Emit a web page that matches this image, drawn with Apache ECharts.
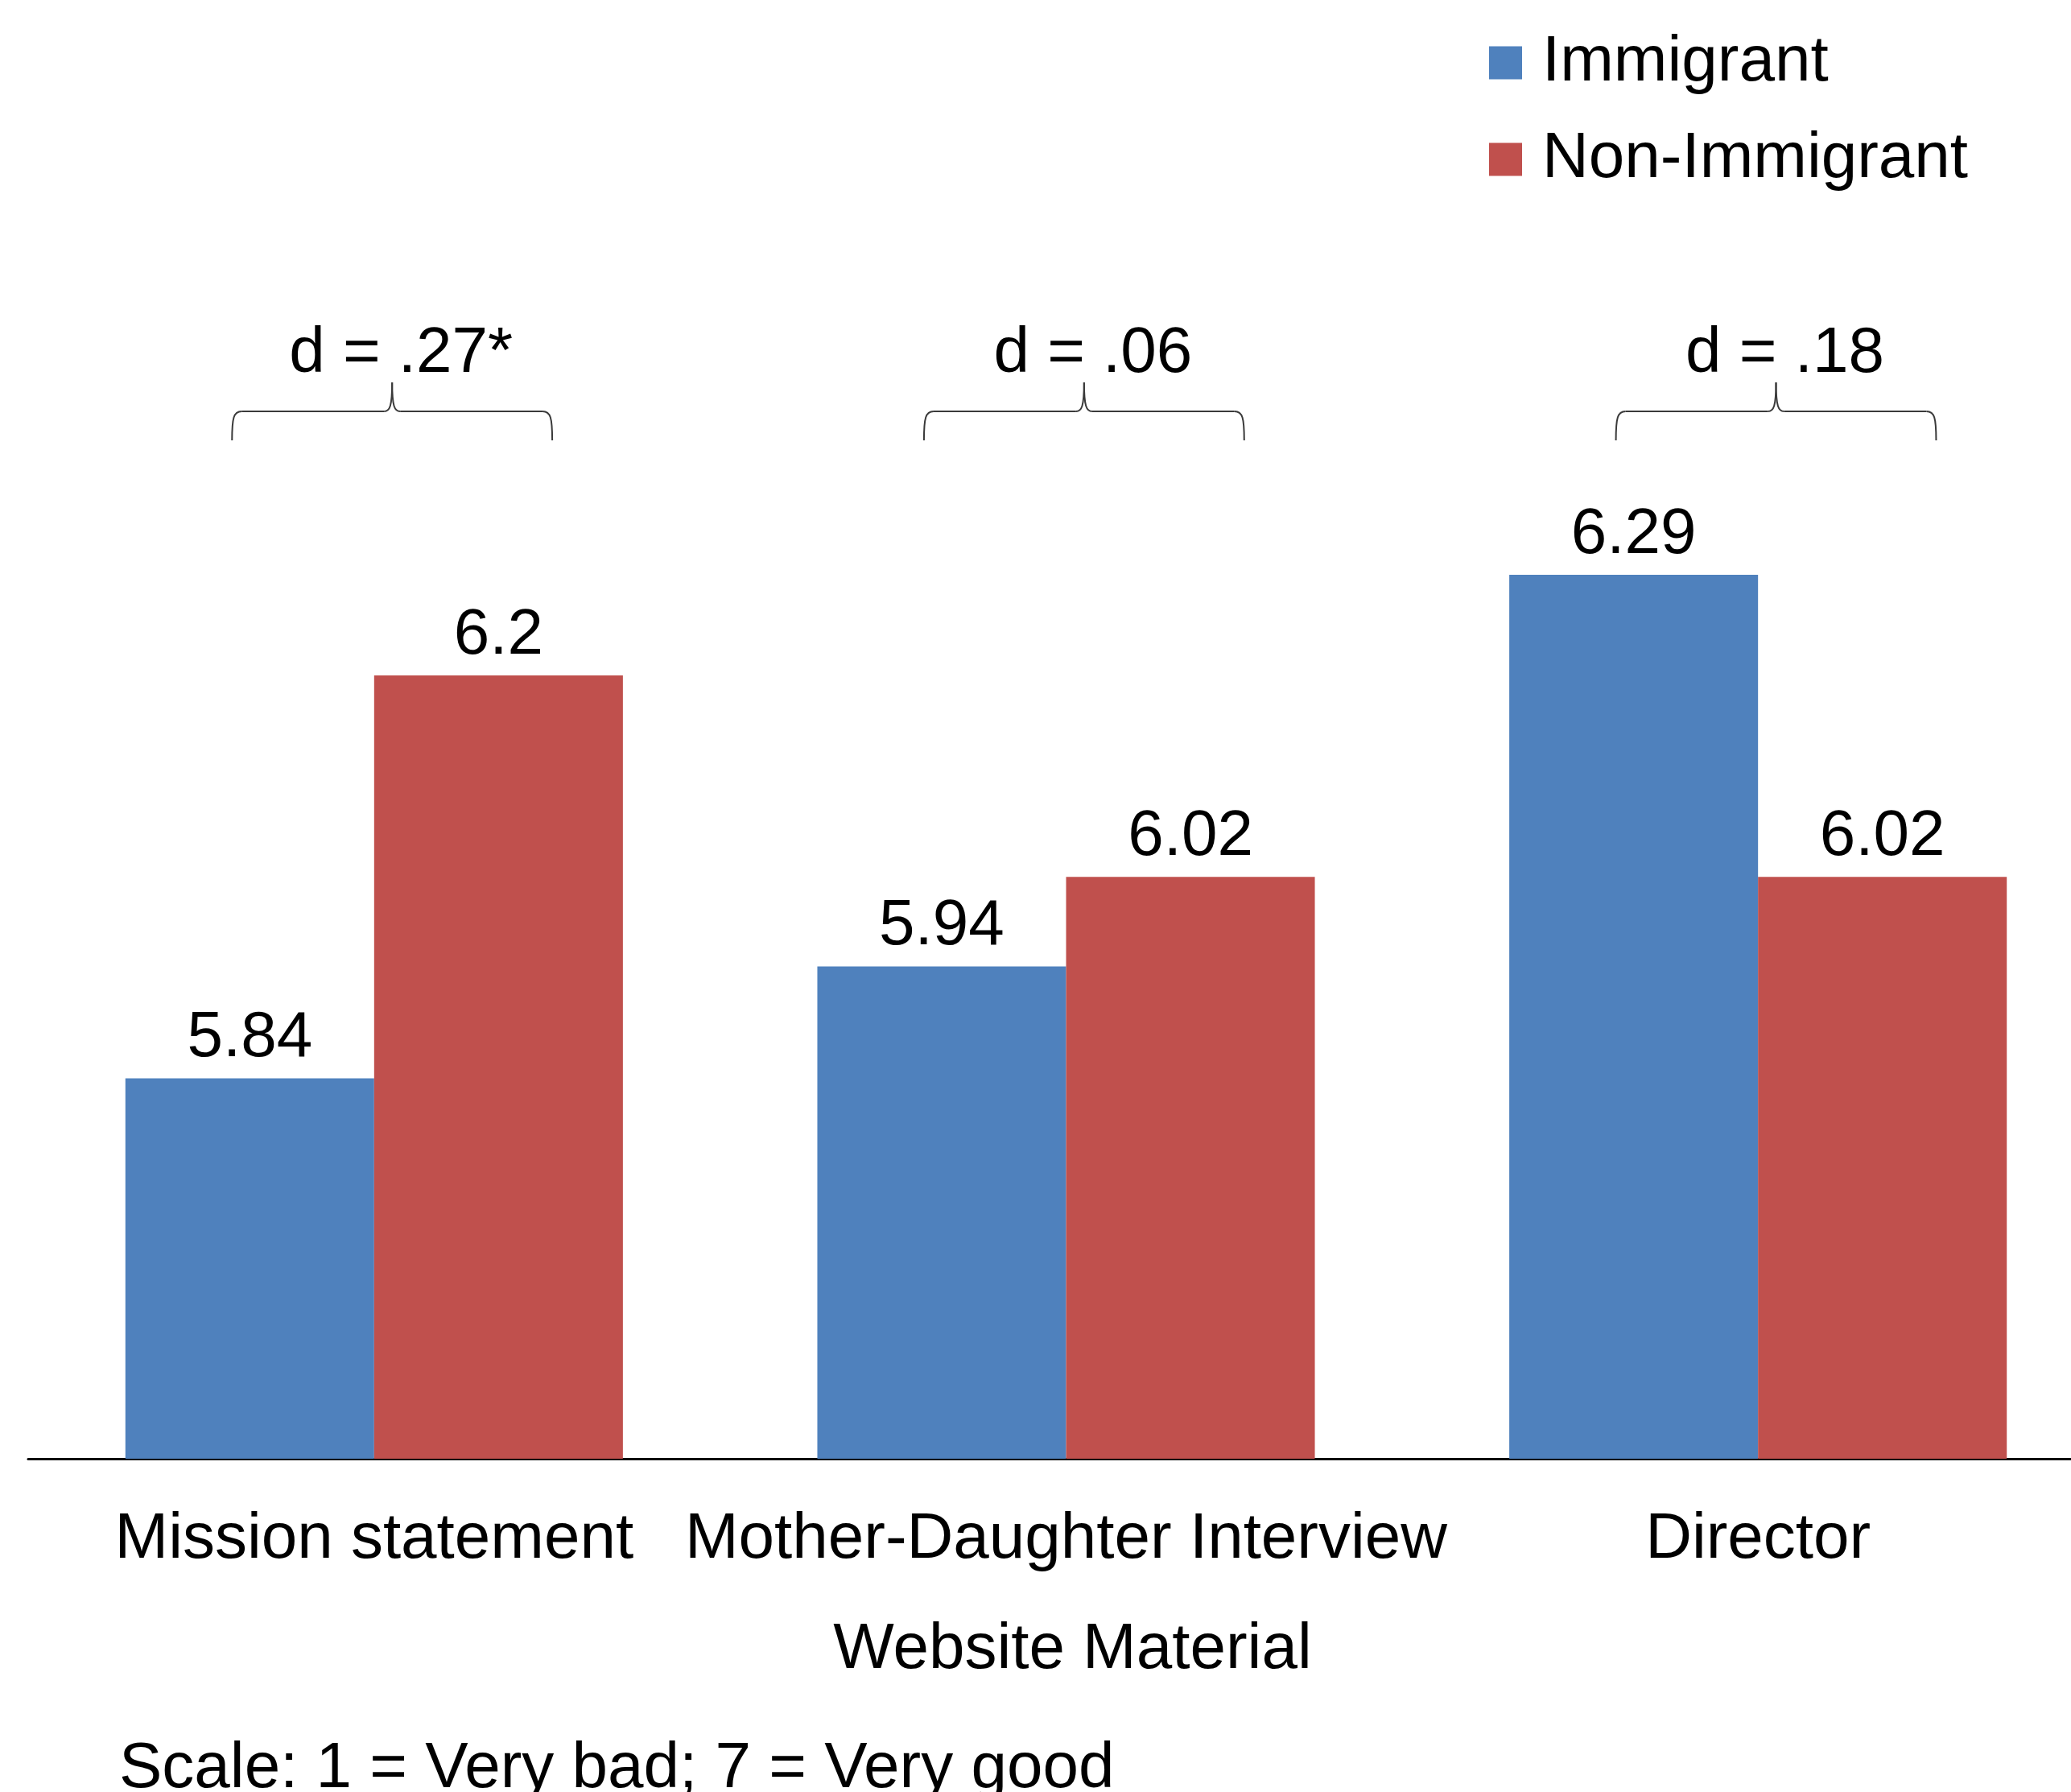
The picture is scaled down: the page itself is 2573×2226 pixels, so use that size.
<!DOCTYPE html>
<html>
<head>
<meta charset="utf-8">
<script src="https://cdn.jsdelivr.net/npm/echarts@6/dist/echarts.min.js"></script>
<style>
html,body{margin:0;padding:0;background:#fff;}
#chart{width:2573px;height:2226px;}
</style>
</head>
<body>
<div id="chart"></div>
<script>
const categories = ['Mission statement', 'Mother-Daughter Interview', 'Director'];
const immigrant = [5.84, 5.94, 6.29];
const nonImmigrant = [6.2, 6.02, 6.02];
const effectLabels = ['d = .27*', 'd = .06', 'd = .18'];
const braceLevel = 6.436;
const axisName = 'Website Material';
const scaleNote = 'Scale: 1 = Very bad; 7 = Very good';

const FONT = '"Liberation Sans", Arial, Helvetica, sans-serif';
const chart = echarts.init(document.getElementById('chart'), null, {renderer: 'canvas'});

const braceData = categories.map((c, i) => [i, braceLevel]);

function renderBrace(params, api) {
  const idx = api.value(0);
  const p = api.coord([idx, api.value(1)]);
  const band = api.size([1, 0])[0];
  const cx = p[0] + band * 0.026;
  const y0 = p[1];
  const W = band * 0.2314;
  const h = 36;
  const st = {stroke: '#3a3a3a', lineWidth: 2, fill: null};
  return {
    type: 'group',
    children: [
      {type: 'bezierCurve', shape: {x1: cx - W, y1: y0 + h, cpx1: cx - W, cpy1: y0 + 8, cpx2: cx - W + 2, cpy2: y0, x2: cx - W + 12, y2: y0}, style: st},
      {type: 'line', shape: {x1: cx - W + 12, y1: y0, x2: cx - 10, y2: y0}, style: st},
      {type: 'bezierCurve', shape: {x1: cx - 10, y1: y0, cpx1: cx - 3, cpy1: y0, cpx2: cx, cpy2: y0 - 6, x2: cx, y2: y0 - h}, style: st},
      {type: 'bezierCurve', shape: {x1: cx, y1: y0 - h, cpx1: cx, cpy1: y0 - 6, cpx2: cx + 3, cpy2: y0, x2: cx + 10, y2: y0}, style: st},
      {type: 'line', shape: {x1: cx + 10, y1: y0, x2: cx + W - 12, y2: y0}, style: st},
      {type: 'bezierCurve', shape: {x1: cx + W - 12, y1: y0, cpx1: cx + W - 2, cpy1: y0, cpx2: cx + W, cpy2: y0 + 8, x2: cx + W, y2: y0 + h}, style: st},
      {type: 'text', x: cx + 11, y: y0 - 71, style: {text: effectLabels[idx], fontSize: 80, fontFamily: FONT, fill: '#000', align: 'center', verticalAlign: 'middle'}}
    ]
  };
}

const option = {
  animation: false,
  backgroundColor: '#ffffff',
  textStyle: {fontFamily: FONT},
  grid: {left: 35, right: -41, top: 422, bottom: 414, containLabel: false, outerBoundsMode: 'none'},
  legend: {
    data: ['Immigrant', 'Non-Immigrant'],
    orient: 'vertical',
    left: 1850,
    top: 34,
    padding: 0,
    itemWidth: 41,
    itemHeight: 41,
    itemGap: 32,
    icon: 'rect',
    textStyle: {fontSize: 80, lineHeight: 80, color: '#000', fontFamily: FONT, padding: [8, 0, 0, 20]}
  },
  xAxis: {
    type: 'category',
    data: categories,
    axisLine: {show: true, lineStyle: {color: '#000', width: 3}},
    axisTick: {show: false},
    axisLabel: {interval: 0, fontSize: 80, lineHeight: 80, color: '#000', margin: 61, fontFamily: FONT},
    name: axisName,
    nameLocation: 'middle',
    nameGap: 198,
    nameTextStyle: {fontSize: 80, lineHeight: 80, color: '#000', fontFamily: FONT, padding: [0, 0, 0, 16]}
  },
  yAxis: {
    type: 'value',
    min: 5.5,
    max: 6.5,
    show: false,
    splitLine: {show: false}
  },
  series: [
    {
      name: 'Immigrant',
      type: 'bar',
      data: immigrant,
      barGap: '0%',
      barCategoryGap: '28.1%',
      itemStyle: {color: '#4F81BD'},
      label: {show: true, position: 'top', distance: 9, fontSize: 80, lineHeight: 80, color: '#000', fontFamily: FONT}
    },
    {
      name: 'Non-Immigrant',
      type: 'bar',
      data: nonImmigrant,
      barGap: '0%',
      barCategoryGap: '28.1%',
      itemStyle: {color: '#C0504D'},
      label: {show: true, position: 'top', distance: 9, fontSize: 80, lineHeight: 80, color: '#000', fontFamily: FONT}
    },
    {
      name: 'braces',
      type: 'custom',
      data: braceData,
      encode: {x: 0, y: 1},
      renderItem: renderBrace,
      silent: true,
      z: 5
    }
  ],
  graphic: [
    {type: 'text', x: 148, y: 2198, style: {text: scaleNote, fontSize: 80, fontFamily: FONT, fill: '#000', align: 'left', verticalAlign: 'middle'}}
  ]
};
chart.setOption(option);
</script>
</body>
</html>
